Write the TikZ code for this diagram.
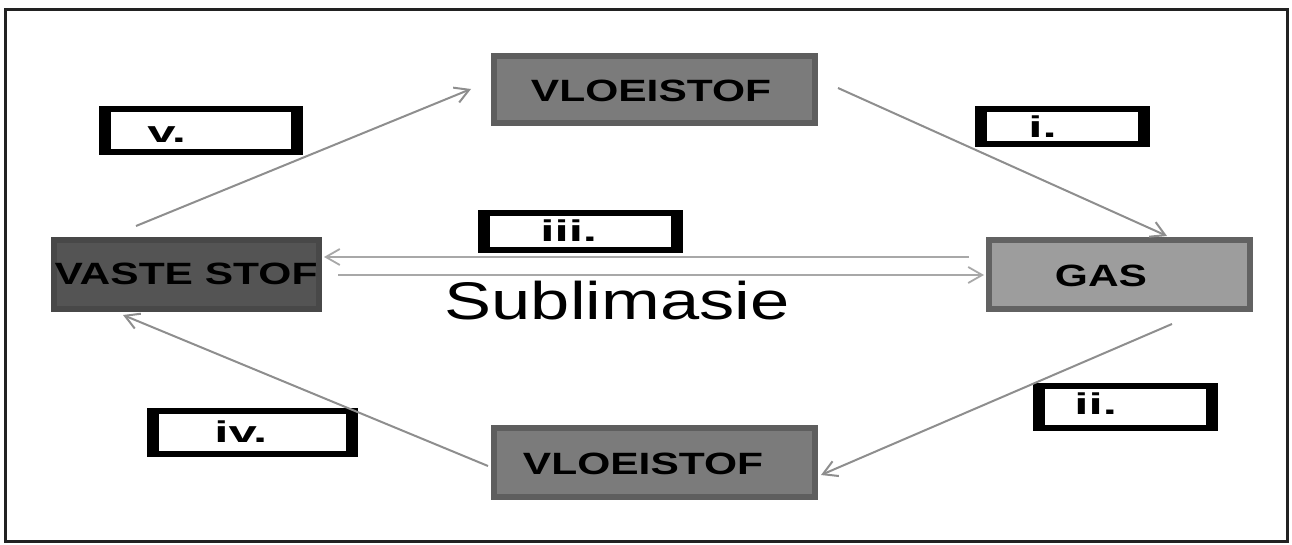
\documentclass[tikz,border=0pt]{standalone}
\usepackage{fontspec}
\setmainfont{Liberation Sans}
\newfontfamily\boxfont{Liberation Sans}[FakeStretch=1.38]
\newfontfamily\lblfont{Liberation Sans}[FakeStretch=1.7]
\newfontfamily\subfont{Liberation Sans}[FakeStretch=1.33]
\usetikzlibrary{arrows.meta,fit}
\definecolor{vlofill}{HTML}{7B7B7B}
\definecolor{vlodraw}{HTML}{5E5E5E}
\definecolor{vasfill}{HTML}{545454}
\definecolor{vasdraw}{HTML}{484848}
\definecolor{gasfill}{HTML}{9D9D9D}
\definecolor{gasdraw}{HTML}{626262}
\definecolor{arrowgray}{HTML}{8E8E8E}
\definecolor{subgray}{HTML}{A8A8A8}
\definecolor{framecol}{HTML}{222222}
\begin{document}
\begin{tikzpicture}[x=0.5pt,y=-0.5pt,
  stbox/.style={draw, line width=3pt, inner sep=0pt},
  vlobox/.style={stbox, fill=vlofill, draw=vlodraw},
  vasbox/.style={stbox, fill=vasfill, draw=vasdraw},
  gasbox/.style={stbox, fill=gasfill, draw=gasdraw},
  boxtxt/.style={anchor=base, inner sep=0pt, font=\boxfont\bfseries\fontsize{15.4pt}{16pt}\selectfont},
  lblbox/.style={inner sep=0pt, fill=black,
    path picture={\fill[white] ([shift={(12,-6)}]path picture bounding box.south west) rectangle ([shift={(-12,6)}]path picture bounding box.north east);}},
  lbltxt/.style={anchor=base west, inner sep=0pt, font=\lblfont\bfseries\fontsize{15pt}{16pt}\selectfont},
  conn/.style={draw=arrowgray, line width=1pt, -{Straight Barb[length=7pt,width=8pt]}},
  subconn/.style={draw=subgray, line width=0.9pt, -{Straight Barb[length=7pt,width=8pt]}}]
\useasboundingbox (0,0) rectangle (1292,545);
\draw[framecol, line width=1.5pt] (5,10) rectangle (1287,541);

% state boxes
\node[vlobox, fit={(494,56)(815,123)}] (vlotop) {};
\node[vlobox, fit={(494,428)(815,497)}] (vlobot) {};
\node[vasbox, fit={(54,240)(319,309)}] (vaste) {};
\node[gasbox, fit={(989,240)(1250,309)}] (gas) {};

\node[boxtxt] (tvlotop) at (651,102) {VLOEISTOF};
\node[boxtxt] (tvlobot) at (643,474) {VLOEISTOF};
\node[boxtxt] (tvaste) at (186,285) {VASTE STOF};
\node[boxtxt] (tgas) at (1101,287) {GAS};

% label boxes
\node[lblbox, fit={(99,106)(303,155)}] (lv) {};
\node[lblbox, fit={(975,106)(1150,147)}] (li) {};
\node[lblbox, fit={(478,210)(683,253)}] (liii) {};
\node[lblbox, fit={(147,408)(358,457)}] (liv) {};
\node[lblbox, fit={(1033,383)(1218,431)}] (lii) {};

\node[lbltxt] (tv) at (147,143) {v.};
\node[lbltxt] (ti) at (1028,138) {i.};
\node[lbltxt] (tiii) at (540,242) {iii.};
\node[lbltxt] (tiv) at (214,443) {iv.};
\node[lbltxt] (tii) at (1074,415) {ii.};

\node[anchor=base, inner sep=0pt, font=\subfont\fontsize{26.5pt}{28pt}\selectfont] (sub) at (617,320) {Sublimasie};

% connector end points
\coordinate (v-s) at (136,226);
\coordinate (v-e) at (471,89);
\coordinate (i-s) at (838,88);
\coordinate (i-e) at (1167,236);
\coordinate (ii-s) at (1172,324);
\coordinate (ii-e) at (821,475);
\coordinate (iv-s) at (488,466);
\coordinate (iv-e) at (123,315);
\coordinate (t-s) at (969,257);
\coordinate (t-e) at (324,257);
\coordinate (b-s) at (338,275);
\coordinate (b-e) at (984,275);

\draw[conn] (v-s) -- (v-e);
\draw[conn] (i-s) -- (i-e);
\draw[conn] (ii-s) -- (ii-e);
\draw[conn] (iv-s) -- (iv-e);
\draw[subconn] (t-s) -- (t-e);
\draw[subconn] (b-s) -- (b-e);
\end{tikzpicture}
\end{document}
